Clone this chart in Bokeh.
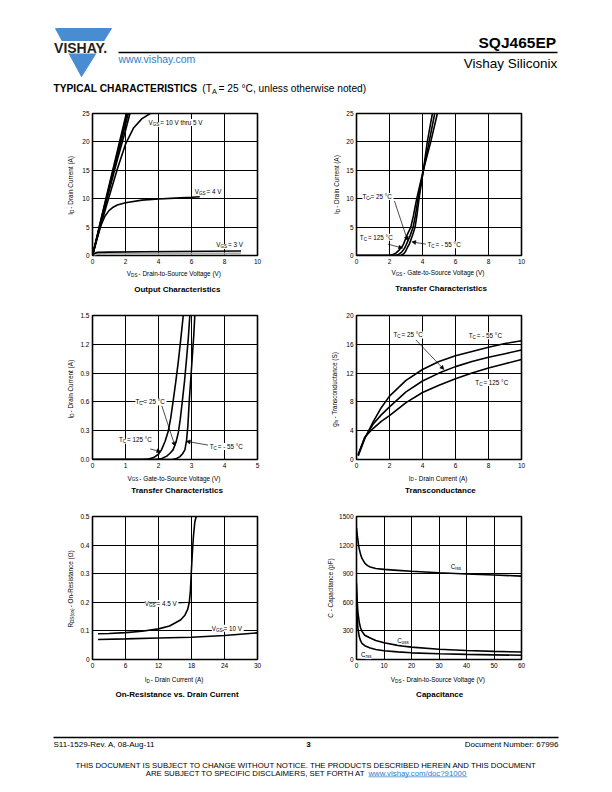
import math
from bokeh.plotting import figure
from bokeh.models import Range1d, FixedTicker, Label, Arrow, NormalHead
from bokeh.layouts import column, row
from bokeh.embed import file_html
from bokeh.resources import INLINE

FONT = "Liberation Sans"

# ---------------- data ----------------
# Output Characteristics: VDS (V) -> ID (A)
out_vds_10v = [0, 0.5, 1.0, 1.5, 2.05]
out_id_10v = [0, 6.2, 12.3, 18.3, 25.0]
out_vds_8v = [0, 0.5, 1.0, 1.5, 2.1]
out_id_8v = [0, 6.0, 12.0, 17.9, 25.0]
out_vds_7v = [0, 0.5, 1.0, 1.5, 2.17]
out_id_7v = [0, 5.9, 11.7, 17.4, 25.0]
out_vds_6v = [0, 0.5, 1.0, 1.5, 2.0, 2.27]
out_id_6v = [0, 5.7, 11.3, 16.8, 22.0, 25.0]
out_vds_5v = [0, 0.5, 1.0, 1.5, 2.0, 2.5, 3.0, 3.5]
out_id_5v = [0, 5.3, 10.3, 15.2, 19.6, 22.5, 24.1, 25.0]
out_vds_4v = [0, 0.25, 0.5, 0.75, 1.0, 1.25, 1.5, 2.0, 3.0, 4.0, 5.0, 6.0, 6.5]
out_id_4v = [0, 2.8, 5.2, 6.9, 7.9, 8.5, 8.9, 9.3, 9.75, 9.95, 10.1, 10.25, 10.35]
out_vds_3v = [0, 0.1, 0.3, 1.0, 3.0, 5.0, 7.0, 9.0]
out_id_3v = [0, 0.35, 0.55, 0.6, 0.65, 0.7, 0.75, 0.8]
out_vds_grey = [0, 0.3, 1.0, 9.0]
out_id_grey = [0, 0.25, 0.3, 0.35]
out_xticks = [0, 2, 4, 6, 8, 10]
out_xlabels = ["0", "2", "4", "6", "8", "10"]
out_yticks = [0, 5, 10, 15, 20, 25]
out_ylabels = ["0", "5", "10", "15", "20", "25"]

# Transfer Characteristics: VGS (V) -> ID (A)
tr_vgs_125 = [0, 2.0, 2.2, 2.4, 2.6, 2.75, 2.85, 3.05, 3.29, 3.45, 3.65, 3.85, 4.05, 4.5, 4.9]
tr_id_125 = [0, 0, 0.15, 0.45, 1.0, 1.5, 2.0, 3.5, 5.0, 7.0, 10.0, 12.5, 15.0, 20.0, 25.0]
tr_vgs_25 = [0, 2.3, 2.5, 2.7, 2.85, 2.95, 3.03, 3.25, 3.43, 3.57, 3.73, 3.9, 4.05, 4.4, 4.74]
tr_id_25 = [0, 0, 0.12, 0.5, 1.0, 1.5, 2.0, 3.5, 5.0, 7.0, 10.0, 12.5, 15.0, 20.0, 25.0]
tr_vgs_m55 = [0, 2.5, 2.7, 2.85, 2.95, 3.1, 3.2, 3.4, 3.55, 3.66, 3.79, 3.92, 4.05, 4.29, 4.6]
tr_id_m55 = [0, 0, 0.05, 0.25, 0.6, 1.5, 2.0, 3.6, 5.0, 7.0, 10.0, 12.5, 15.0, 20.0, 25.0]
tr_xticks = [0, 2, 4, 6, 8, 10]
tr_xlabels = ["0", "2", "4", "6", "8", "10"]
tr_yticks = [0, 5, 10, 15, 20, 25]
tr_ylabels = ["0", "5", "10", "15", "20", "25"]

# Transfer Characteristics (low current): VGS (V) -> ID (A)
trl_vgs_125 = [0, 1.5, 1.7, 1.85, 2.0, 2.09, 2.2, 2.3, 2.37, 2.44, 2.52, 2.6, 2.68, 2.75]
trl_id_125 = [0, 0, 0.005, 0.02, 0.055, 0.1, 0.19, 0.3, 0.43, 0.6, 0.8, 1.02, 1.27, 1.5]
trl_vgs_25 = [0, 1.9, 2.1, 2.25, 2.35, 2.44, 2.53, 2.6, 2.66, 2.72, 2.79, 2.85, 2.9, 2.95]
trl_id_25 = [0, 0, 0.01, 0.035, 0.065, 0.1, 0.18, 0.28, 0.42, 0.6, 0.82, 1.05, 1.25, 1.5]
trl_vgs_m55 = [0, 2.4, 2.55, 2.65, 2.73, 2.8, 2.85, 2.89, 2.93, 2.98, 3.03, 3.07, 3.1]
trl_id_m55 = [0, 0, 0.01, 0.03, 0.06, 0.1, 0.2, 0.35, 0.6, 0.85, 1.1, 1.3, 1.5]
trl_xticks = [0, 1, 2, 3, 4, 5]
trl_xlabels = ["0", "1", "2", "3", "4", "5"]
trl_yticks = [0, 0.3, 0.6, 0.9, 1.2, 1.5]
trl_ylabels = ["0.0", "0.3", "0.6", "0.9", "1.2", "1.5"]

# Transconductance: ID (A) -> gfs (S)
gfs_id = [0.1, 0.5, 1, 1.5, 2, 3, 4, 5, 6, 7, 8, 9, 10]
gfs_m55 = [0.5, 2.9, 5.2, 7.2, 8.8, 11.0, 12.5, 13.6, 14.4, 15.0, 15.6, 16.1, 16.5]
gfs_25 = [0.6, 3.0, 4.9, 6.2, 7.3, 9.4, 10.9, 12.0, 12.9, 13.6, 14.2, 14.7, 15.2]
gfs_125 = [0.7, 3.1, 4.3, 5.3, 6.1, 7.9, 9.3, 10.3, 11.2, 12.0, 12.7, 13.3, 13.9]
gfs_xticks = [0, 2, 4, 6, 8, 10]
gfs_xlabels = ["0", "2", "4", "6", "8", "10"]
gfs_yticks = [0, 4, 8, 12, 16, 20]
gfs_ylabels = ["0", "4", "8", "12", "16", "20"]

# On-Resistance vs. Drain Current: ID (A) -> RDS(on) (ohm)
ron_id_45 = [1, 3, 6, 9, 12, 14, 16, 16.8, 17.3, 17.6, 17.8, 17.95, 18.15, 18.35, 18.6, 18.85]
ron_r_45 = [0.09, 0.091, 0.094, 0.099, 0.107, 0.117, 0.138, 0.155, 0.175, 0.2, 0.24, 0.3, 0.37, 0.43, 0.48, 0.5]
ron_id_10 = [1, 6, 12, 18, 24, 30]
ron_r_10 = [0.07, 0.072, 0.075, 0.078, 0.084, 0.093]
ron_xticks = [0, 6, 12, 18, 24, 30]
ron_xlabels = ["0", "6", "12", "18", "24", "30"]
ron_yticks = [0, 0.1, 0.2, 0.3, 0.4, 0.5]
ron_ylabels = ["0", "0.1", "0.2", "0.3", "0.4", "0.5"]

# Capacitance: VDS (V) -> C (pF)
cap_vds_iss = [0, 0.3, 0.7, 1, 1.5, 2, 3, 4, 5, 7, 10, 15, 20, 30, 40, 50, 60]
cap_ciss = [1380, 1300, 1210, 1160, 1100, 1060, 1010, 985, 970, 955, 945, 935, 925, 910, 897, 887, 875]
cap_vds = [0, 0.2, 0.5, 1, 1.5, 2, 3, 5, 7, 10, 15, 20, 30, 40, 50, 60]
cap_coss = [800, 650, 500, 390, 330, 295, 255, 225, 200, 175, 148, 130, 108, 95, 85, 78]
cap_crss = [700, 480, 330, 240, 195, 170, 145, 120, 105, 92, 80, 70, 60, 54, 49, 44]
cap_xticks = [0, 10, 20, 30, 40, 50, 60]
cap_xlabels = ["0", "10", "20", "30", "40", "50", "60"]
cap_yticks = [0, 300, 600, 900, 1200, 1500]
cap_ylabels = ["0", "300", "600", "900", "1200", "1500"]

# ---------------- helpers ----------------
_U = dict(zip("ABCDEFGHIJKLMNOPQRSTUVWXYZ",
              [667, 667, 722, 722, 667, 611, 778, 722, 278, 500, 667, 556, 833, 722, 778, 667, 778, 722, 667, 611,
               722, 667, 944, 667, 667, 611]))
_L = dict(zip("abcdefghijklmnopqrstuvwxyz",
              [556, 556, 500, 556, 556, 278, 556, 556, 222, 222, 500, 222, 833, 556, 556, 556, 556, 333, 500, 278,
               556, 500, 722, 500, 500, 500]))
CW = {" ": 278, "!": 278, "(": 333, ")": 333, ",": 278, "-": 333, ".": 278, "/": 278, ":": 278, "=": 584,
      "?": 556, "°": 400, "Ω": 768}
CW.update(_U)
CW.update(_L)
for d in "0123456789":
    CW[d] = 556


def tw(s, size, bold=False):
    w = sum(CW.get(c, 556) for c in s) / 1000.0 * size
    return w * (1.03 if bold else 1.0)


def rich(p, x, y, segs, size, align="left", angle=0.0, color="black", dx=0.0, dy=0.0, bg=False):
    parts = []
    for t, st in segs:
        fs = size * 0.72 if "s" in st else size
        w = tw(t, fs, "b" in st) + (0.16 * size if "s" in st else 0.0)
        parts.append((t, st, fs, w))
    total = sum(q[3] for q in parts)
    pos = {"left": 0.0, "center": -total / 2.0, "right": -total}[align]
    for t, st, fs, w in parts:
        base = 0.3 * size if "s" in st else 0.0
        if angle == 0:
            xo, yo = dx + pos, dy - base
        else:
            xo, yo = dx + base, dy + pos
        p.add_layout(Label(x=x, y=y, x_offset=xo, y_offset=yo, text=t, angle=angle,
                           text_align="left", text_baseline="middle", text_font=FONT,
                           text_font_size=f"{fs:.2f}px",
                           text_font_style="bold" if "b" in st else "normal",
                           text_color=color,
                           background_fill_color="white" if bg else None))
        pos += w
    return total


def band(x0, x1, y0, y1):
    """A plain text/decoration strip in page pixel coordinates (y grows downward)."""
    p = figure(width=x1 - x0, height=y1 - y0, x_range=Range1d(x0, x1), y_range=Range1d(y1, y0),
               output_backend="svg", toolbar_location=None, title=None,
               x_axis_type=None, y_axis_type=None,
               min_border_left=0, min_border_right=0, min_border_top=0, min_border_bottom=0)
    p.outline_line_color = None
    return p


def chart(width, height, left, right, top, bottom, xr, yr, xt, xl, yt, yl):
    p = figure(width=width, height=height, x_range=Range1d(*xr), y_range=Range1d(*yr),
               output_backend="svg", toolbar_location=None, title=None,
               min_border_left=left, min_border_right=right, min_border_top=top, min_border_bottom=bottom)
    p.xaxis.ticker = FixedTicker(ticks=xt)
    p.yaxis.ticker = FixedTicker(ticks=yt)
    p.xgrid.ticker = FixedTicker(ticks=xt)
    p.ygrid.ticker = FixedTicker(ticks=yt)
    p.xaxis.major_label_overrides = {t: l for t, l in zip(xt, xl)}
    p.yaxis.major_label_overrides = {t: l for t, l in zip(yt, yl)}
    for ax in (p.xaxis[0], p.yaxis[0]):
        ax.axis_label = None
        ax.axis_line_color = None
        ax.major_tick_line_color = None
        ax.minor_tick_line_color = None
        ax.major_tick_in = 0
        ax.major_tick_out = 0
        ax.major_label_text_font = FONT
        ax.major_label_text_font_size = "6.5px"
        ax.major_label_text_color = "black"
    p.xaxis.major_label_standoff = 3
    p.yaxis.major_label_standoff = 3
    for g in (p.xgrid[0], p.ygrid[0]):
        g.grid_line_color = "black"
        g.grid_line_width = 1
        g.grid_line_alpha = 1
    p.outline_line_color = "black"
    p.outline_line_width = 1.6
    p.outline_line_alpha = 1
    return p


def arrow(p, x0, y0, x1, y1):
    p.add_layout(Arrow(end=NormalHead(size=4, fill_color="black", line_color="black", line_width=0.5),
                       x_start=x0, y_start=y0, x_end=x1, y_end=y1, line_width=0.7, line_color="black"))


def inlab(p, x, y, segs):
    rich(p, x, y, segs, LS, bg=True)


LW = 1.6
LS = 6.3   # in-plot label size
AS = 6.4   # axis label size
TS = 8.0   # chart title size
PW = 610   # page content width

# ================= row 1 =================
r1x, r1y = (0, 10), (0, 25)
yb1 = band(0, 76, 100, 269)
c1 = chart(230, 169, 16, 49, 13, 13, r1x, r1y, out_xticks, out_xlabels, out_yticks, out_ylabels)
c1.line(out_vds_grey, out_id_grey, line_color="#a8a8a8", line_width=2)
for xs, ys in ((out_vds_10v, out_id_10v), (out_vds_8v, out_id_8v), (out_vds_7v, out_id_7v),
               (out_vds_6v, out_id_6v), (out_vds_5v, out_id_5v), (out_vds_4v, out_id_4v),
               (out_vds_3v, out_id_3v)):
    c1.line(xs, ys, line_color="black", line_width=LW)
inlab(c1, 3.4, 23.4, [("V", ""), ("GS", "s"), (" = 10 V thru 5 V", "")])
inlab(c1, 6.2, 11.3, [("V", ""), ("GS", "s"), (" = 4 V", "")])
inlab(c1, 7.5, 1.9, [("V", ""), ("GS", "s"), (" = 3 V", "")])

r2x, r2y = (0, 10), (0, 25)
yb2 = band(306, 342, 100, 269)
c2 = chart(268, 169, 14, 89, 12, 14, r2x, r2y, tr_xticks, tr_xlabels, tr_yticks, tr_ylabels)
for xs, ys in ((tr_vgs_125, tr_id_125), (tr_vgs_25, tr_id_25), (tr_vgs_m55, tr_id_m55)):
    c2.line(xs, ys, line_color="black", line_width=LW)
inlab(c2, 0.36, 10.4, [("T", ""), ("C", "s"), (" = 25 °C", "")])
arrow(c2, 2.3, 9.6, 3.1, 2.6)
inlab(c2, 0.2, 3.2, [("T", ""), ("C", "s"), (" = 125 °C", "")])
arrow(c2, 1.9, 2.0, 2.8, 1.3)
inlab(c2, 4.3, 1.9, [("T", ""), ("C", "s"), (" = - 55 °C", "")])
arrow(c2, 4.2, 2.0, 3.35, 2.4)

rich(yb1, 70, 184.5, [("I", ""), ("D", "s"), (" - Drain Current (A)", "")], AS, align="center", angle=math.pi / 2)
rich(yb2, 336, 183.5, [("I", ""), ("D", "s"), (" - Drain Current (A)", "")], AS, align="center", angle=math.pi / 2)
xb1 = band(0, PW, 269, 300)
rich(xb1, 174.5, 273, [("V", ""), ("DS", "s"), (" - Drain-to-Source Voltage (V)", "")], AS, align="center")
rich(xb1, 174.5, 288.5, [("Output Characteristics", "b")], TS, align="center")
rich(xb1, 438.5, 272, [("V", ""), ("GS", "s"), (" - Gate-to-Source Voltage (V)", "")], AS, align="center")
rich(xb1, 438.5, 288, [("Transfer Characteristics", "b")], TS, align="center")

# ================= row 2 =================
r3x, r3y = (0, 5), (0, 1.5)
yb3 = band(0, 76, 300, 472)
c3 = chart(230, 172, 16, 49, 15, 13, r3x, r3y, trl_xticks, trl_xlabels, trl_yticks, trl_ylabels)
for xs, ys in ((trl_vgs_125, trl_id_125), (trl_vgs_25, trl_id_25), (trl_vgs_m55, trl_id_m55)):
    c3.line(xs, ys, line_color="black", line_width=LW)
inlab(c3, 1.3, 0.6, [("T", ""), ("C", "s"), (" = 25 °C", "")])
arrow(c3, 2.1, 0.56, 2.5, 0.14)
inlab(c3, 0.8, 0.21, [("T", ""), ("C", "s"), (" = 125 °C", "")])
arrow(c3, 1.75, 0.11, 2.07, 0.08)
inlab(c3, 3.55, 0.135, [("T", ""), ("C", "s"), (" = - 55 °C", "")])
arrow(c3, 3.5, 0.15, 2.84, 0.19)

r4x, r4y = (0, 10), (0, 20)
yb4 = band(306, 340, 300, 472)
c4 = chart(270, 172, 16, 89, 15, 13, r4x, r4y, gfs_xticks, gfs_xlabels, gfs_yticks, gfs_ylabels)
for ys in (gfs_m55, gfs_25, gfs_125):
    c4.line(gfs_id, ys, line_color="black", line_width=LW)
inlab(c4, 2.24, 17.3, [("T", ""), ("C", "s"), (" = 25 °C", "")])
arrow(c4, 3.6, 16.6, 5.3, 12.5)
inlab(c4, 6.8, 17.2, [("T", ""), ("C", "s"), (" = - 55 °C", "")])
inlab(c4, 7.2, 10.7, [("T", ""), ("C", "s"), (" = 125 °C", "")])

rich(yb3, 70, 387, [("I", ""), ("D", "s"), (" - Drain Current (A)", "")], AS, align="center", angle=math.pi / 2)
rich(yb4, 334, 387, [("g", ""), ("fs", "s"), (" - Transconductance (S)", "")], AS, align="center", angle=math.pi / 2)
xb2 = band(0, PW, 472, 503)
rich(xb2, 174.5, 477.5, [("V", ""), ("GS", "s"), (" - Gate-to-Source Voltage (V)", "")], AS, align="center")
rich(xb2, 174.5, 490, [("Transfer Characteristics", "b")], TS, align="center")
rich(xb2, 438.5, 477.5, [("I", ""), ("D", "s"), (" - Drain Current (A)", "")], AS, align="center")
rich(xb2, 438.5, 490, [("Transconductance", "b")], TS, align="center")

# ================= row 3 =================
r5x, r5y = (0, 30), (0, 0.5)
yb5 = band(0, 76, 503, 672)
c5 = chart(230, 169, 16, 49, 13, 13, r5x, r5y, ron_xticks, ron_xlabels, ron_yticks, ron_ylabels)
c5.line(ron_id_45, ron_r_45, line_color="black", line_width=LW)
c5.line(ron_id_10, ron_r_10, line_color="black", line_width=LW)
c5.add_layout(Arrow(end=None, x_start=15.3, y_start=0.197, x_end=17.6, y_end=0.2, line_width=0.7))
inlab(c5, 9.5, 0.196, [("V", ""), ("GS", "s"), (" = 4.5 V", "")])
inlab(c5, 21.7, 0.109, [("V", ""), ("GS", "s"), (" = 10 V", "")])

r6x, r6y = (0, 60), (0, 1500)
yb6 = band(306, 335, 503, 672)
c6 = chart(275, 169, 21, 89, 13, 13, r6x, r6y, cap_xticks, cap_xlabels, cap_yticks, cap_ylabels)
c6.line(cap_vds_iss, cap_ciss, line_color="black", line_width=LW)
c6.line(cap_vds, cap_coss, line_color="black", line_width=LW)
c6.line(cap_vds, cap_crss, line_color="black", line_width=LW)
inlab(c6, 34.3, 975, [("C", ""), ("iss", "s")])
inlab(c6, 14.8, 195, [("C", ""), ("oss", "s")])
inlab(c6, 1.6, 48, [("C", ""), ("rss", "s")])

rich(yb5, 70, 587.5, [("R", ""), ("DS(on)", "s"), (" - On-Resistance (Ω)", "")], AS, align="center", angle=math.pi / 2)
rich(yb6, 330, 587.5, [("C - Capacitance (pF)", "")], AS, align="center", angle=math.pi / 2)
xb3 = band(0, PW, 672, 705)
rich(xb3, 174.5, 679, [("I", ""), ("D", "s"), (" - Drain Current (A)", "")], AS, align="center")
rich(xb3, 174.5, 693.5, [("On-Resistance vs. Drain Current", "b")], TS, align="center")
rich(xb3, 438.5, 679, [("V", ""), ("DS", "s"), (" - Drain-to-Source Voltage (V)", "")], AS, align="center")
rich(xb3, 438.5, 693.5, [("Capacitance", "b")], TS, align="center")

# ================= header =================
BLUE = "#4a8cd2"
LINK = "#2f7cc6"
hd = band(0, PW, 0, 100)
hd.patch([55, 111, 81], [28, 28, 76], fill_color=BLUE, line_color=BLUE)
hd.quad(left=48, right=118, top=40.5, bottom=53, fill_color="white", line_color=None)
rich(hd, 82, 47, [("VISHAY.", "b")], 14.0, align="center", color="#231f20")
hd.segment(x0=118, y0=52, x1=557, y1=52, line_color="black", line_width=1.3)
rich(hd, 118, 58.5, [("www.vishay.com", "")], 10.5, color=LINK)
rich(hd, 557, 41.5, [("SQJ465EP", "b")], 15.5, align="right")
rich(hd, 557, 62.5, [("Vishay Siliconix", "")], 13.5, align="right")
rich(hd, 53, 88, [("TYPICAL CHARACTERISTICS ", "b"), ("(T", ""), ("A", "s"),
                  (" = 25 °C, unless otherwise noted)", "")], 10.2)

# ================= footer =================
ft = band(0, PW, 705, 791)
ft.segment(x0=53, y0=737, x1=558, y1=737, line_color="black", line_width=1.3)
rich(ft, 53, 744, [("S11-1529-Rev. A, 08-Aug-11", "")], 8.0)
rich(ft, 308, 744, [("3", "b")], 8.0, align="center")
rich(ft, 558, 744, [("Document Number: 67996", "")], 8.0, align="right")
rich(ft, 306, 765, [("THIS DOCUMENT IS SUBJECT TO CHANGE WITHOUT NOTICE. THE PRODUCTS DESCRIBED HEREIN AND THIS DOCUMENT", "")],
     7.8, align="center")
l2a = "ARE SUBJECT TO SPECIFIC DISCLAIMERS, SET FORTH AT "
l2b = "www.vishay.com/doc?91000"
wa, wb = tw(l2a, 7.8), tw(l2b, 7.8)
x2 = 306 - (wa + wb) / 2.0
rich(ft, x2, 772.5, [(l2a, "")], 7.8)
rich(ft, x2 + wa, 772.5, [(l2b, "")], 7.8, color=LINK)
ft.segment(x0=x2 + wa, y0=776.3, x1=x2 + wa + wb, y1=776.3, line_color=LINK, line_width=0.7)

layout = column(hd,
                row(yb1, c1, yb2, c2), xb1,
                row(yb3, c3, yb4, c4), xb2,
                row(yb5, c5, yb6, c6), xb3,
                ft)
open("out.html", "w").write(file_html(layout, INLINE))
